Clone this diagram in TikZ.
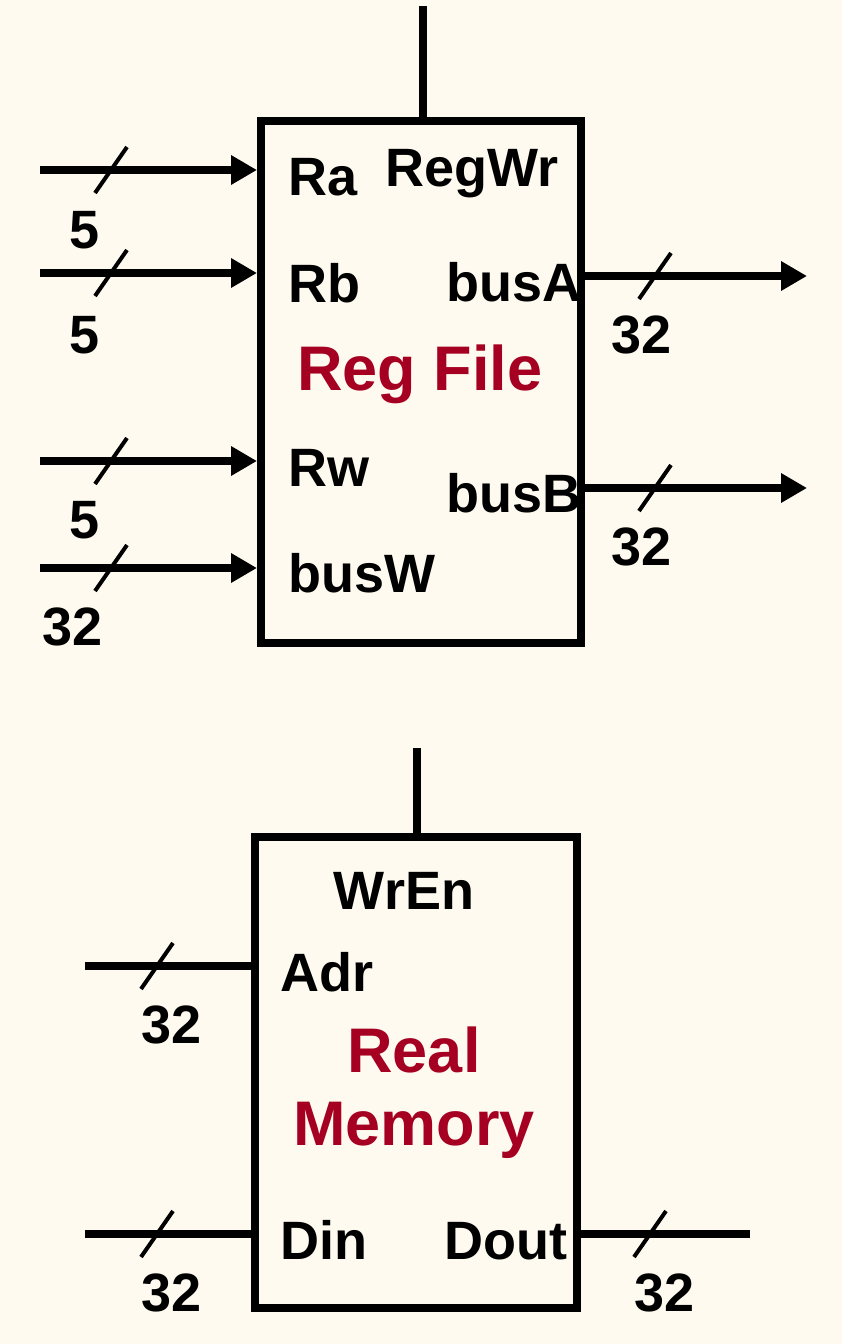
\documentclass[tikz,border=0pt]{standalone}
\usepackage{fontspec}
\setmainfont{Liberation Sans}
\usetikzlibrary{arrows.meta}
\definecolor{paper}{HTML}{FEFAEF}
\definecolor{blkred}{HTML}{A50021}
\tikzset{
  blk/.style={draw, line width=4pt, inner sep=0pt},
  bus/.style={line width=4pt},
  busin/.style={bus, -{Triangle[length=13pt,width=14pt]}},
  tickmark/.style={line width=2pt},
  pin/.style={font=\bfseries\fontsize{27}{32}\selectfont, inner sep=0pt},
  title/.style={font=\bfseries\fontsize{31.5}{38}\selectfont, text=blkred, inner sep=0pt},
}
% slash with bus width on a wire
\newcommand{\buswidth}[1]{\draw[tickmark] ([shift={(-16,23)}]#1) -- ([shift={(16,-23)}]#1);}
\begin{document}
\begin{tikzpicture}[x=0.5pt,y=-0.5pt]
            \fill[paper] (0,0) rectangle (842,1344);
            \useasboundingbox (0,0) rectangle (842,1344);

            % register file
            \node[blk, minimum width=160pt, minimum height=261pt] (rf) at (421,382) {};
            \coordinate (regwr) at (423,6);
            \draw[bus] (regwr) -- (regwr |- rf.north);
            \coordinate (ra) at (40,170);
            \coordinate (rb) at (40,273);
            \coordinate (rw) at (40,461);
            \coordinate (busw) at (40,568);
            \coordinate (busa) at (807,276);
            \coordinate (busb) at (807,488);
            \draw[busin] (ra) -- (ra -| rf.west);
            \draw[busin] (rb) -- (rb -| rf.west);
            \draw[busin] (rw) -- (rw -| rf.west);
            \draw[busin] (busw) -- (busw -| rf.west);
            \draw[busin] (busa -| rf.east) -- (busa);
            \draw[busin] (busb -| rf.east) -- (busb);
            \coordinate (sra) at (111,170);
            \coordinate (srb) at (111,273);
            \coordinate (srw) at (111,461);
            \coordinate (sbw) at (111,568);
            \coordinate (sba) at (655,276);
            \coordinate (sbb) at (655,488);
            \foreach \s in {sra,srb,srw,sbw,sba,sbb} {\buswidth{\s}}
            \node[pin, anchor=base] (wra) at (85,248) {5};
            \node[pin, anchor=base] (wrb) at (85,353) {5};
            \node[pin, anchor=base] (wrw) at (85,538) {5};
            \node[pin, anchor=base] (wbw) at (73,645) {32};
            \node[pin, anchor=base] (wba) at (642,353) {32};
            \node[pin, anchor=base] (wbb) at (642,565) {32};
            \node[pin, anchor=base west] (lra) at (288,195) {Ra};
            \node[pin, anchor=base] (lregwr) at (472,186) {RegWr};
            \node[pin, anchor=base west] (lrb) at (288,302) {Rb};
            \node[pin, anchor=base east] (lbusa) at (582,301) {busA};
            \node[title, anchor=base] (lrf) at (420,390) {Reg File};
            \node[pin, anchor=base west] (lrw) at (288,486) {Rw};
            \node[pin, anchor=base east] (lbusb) at (582,512) {busB};
            \node[pin, anchor=base west] (lbusw) at (288,592) {busW};

            % memory
            \node[blk, minimum width=161pt, minimum height=235.5pt] (mem) at (416,1072.5) {};
            \coordinate (wren) at (417,748);
            \draw[bus] (wren) -- (wren |- mem.north);
            \coordinate (adr) at (85,966);
            \coordinate (din) at (85,1234);
            \coordinate (dout) at (750,1234);
            \draw[bus] (adr) -- (adr -| mem.west);
            \draw[bus] (din) -- (din -| mem.west);
            \draw[bus] (dout -| mem.east) -- (dout);
            \coordinate (sadr) at (157,966);
            \coordinate (sdin) at (157,1234);
            \coordinate (sdout) at (650,1234);
            \foreach \s in {sadr,sdin,sdout} {\buswidth{\s}}
            \node[pin, anchor=base] (wadr) at (172,1043) {32};
            \node[pin, anchor=base] (wdin) at (172,1311) {32};
            \node[pin, anchor=base] (wdout) at (665,1311) {32};
            \node[pin, anchor=base] (lwren) at (404,909) {WrEn};
            \node[pin, anchor=base west] (ladr) at (280,991) {Adr};
            \node[title, anchor=base] (lreal) at (414,1072) {Real};
            \node[title, anchor=base] (lmem) at (414,1145) {Memory};
            \node[pin, anchor=base west] (ldin) at (280,1259) {Din};
            \node[pin, anchor=base east] (ldout) at (568,1259) {Dout};
\end{tikzpicture}
\end{document}
